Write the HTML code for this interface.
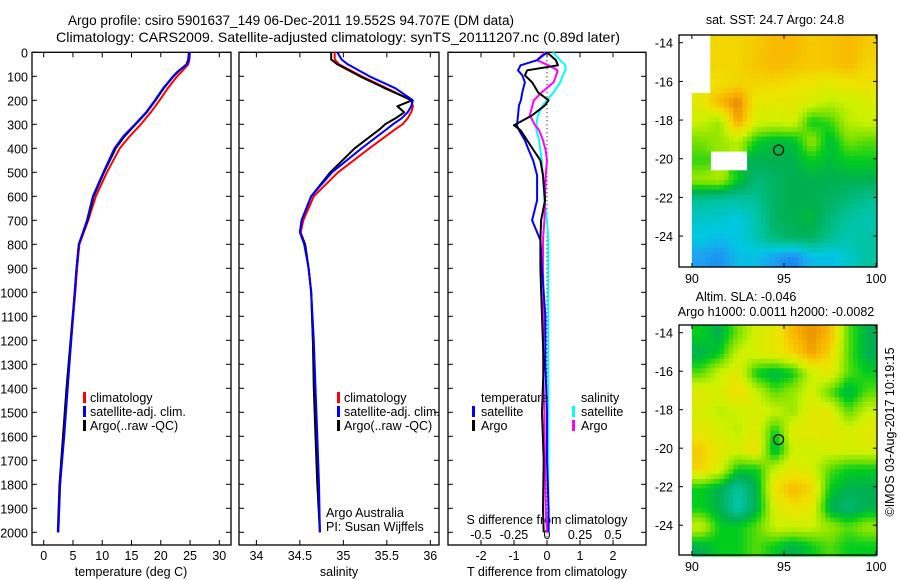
<!DOCTYPE html>
<html><head><meta charset="utf-8">
<style>
html,body{margin:0;padding:0;background:#fff;}
svg{display:block;font-family:"Liberation Sans",sans-serif;}
text{font-size:12.5px;fill:#000;}
</style></head>
<body>
<svg id="chart" width="900" height="580" viewBox="0 0 900 580" xmlns="http://www.w3.org/2000/svg">
<text x="68" y="25" textLength="446" lengthAdjust="spacingAndGlyphs" style="font-size:13.5px">Argo profile: csiro 5901637_149 06-Dec-2011 19.552S 94.707E (DM data)</text>
<text x="56" y="42" textLength="564" lengthAdjust="spacingAndGlyphs" style="font-size:13.8px">Climatology: CARS2009. Satellite-adjusted climatology: synTS_20111207.nc (0.89d later)</text>
<g id="layer"></g>
</svg>
<script>
// ---------- data ----------
const depthTicks = [0,100,200,300,400,500,600,700,800,900,1000,1100,1200,1300,1400,1500,1600,1700,1800,1900,2000];
const tempTicks = [0,5,10,15,20,25,30];
const salTicks = [34,34.5,35,35.5,36];
const tdiffTicks = [-2,-1,0,1,2];
const sdiffTicks = [-0.5,-0.25,0,0.25,0.5];
const sdiffTickLabels = ["-0.5","-0.25","0","0.25","0.5"];

const tDepths = [0,30,50,80,100,150,200,250,300,350,400,500,600,700,800,900,1000,1200,1400,1600,1800,2000];
const tempClim = [25,24.9,24.7,23.6,22.8,21.2,19.8,18.3,16.6,14.7,13.0,10.8,8.9,7.6,6.1,5.7,5.4,4.7,4.0,3.4,2.8,2.5];
const tempSat = [24.9,24.8,24.5,22.9,22.1,20.4,19.0,17.5,15.6,13.6,12.1,10.2,8.4,7.4,6.0,5.6,5.3,4.7,4.1,3.5,2.8,2.5];
const tempArgo = [24.8,24.7,24.4,23,22.2,20.5,19.1,17.6,15.7,13.8,12.3,10.3,8.5,7.5,6.0,5.6,5.3,4.6,3.9,3.3,2.7,2.4];

const sDepths = [0,30,50,100,150,200,225,250,275,300,320,400,500,600,700,750,800,900,1000,1200,1400,1600,1800,2000];
const salClim = [34.9,34.9,34.95,35.21,35.5,35.78,35.8,35.78,35.74,35.68,35.6,35.3,34.94,34.66,34.54,34.51,34.56,34.6,34.63,34.65,34.67,34.69,34.71,34.73];
const salSat = [34.93,34.98,35.05,35.3,35.6,35.8,35.78,35.74,35.67,35.57,35.5,35.21,34.87,34.63,34.52,34.5,34.55,34.6,34.63,34.66,34.68,34.7,34.72,34.73];
const salArgo = [34.86,34.86,34.93,35.19,35.48,35.79,35.62,35.7,35.6,35.48,35.42,35.13,34.85,34.63,34.52,34.5,34.56,34.6,34.63,34.65,34.66,34.68,34.7,34.73];

const dDepths = [0,33,54,75,96,125,167,200,221,263,304,325,367,409,450,513,617,700,783,900,1100,1300,1500,1700,1900,2000];
const tDiffSat = [0,-0.3,-0.8,-0.88,-0.75,-0.67,-0.75,-0.79,-0.85,-0.88,-0.91,-0.85,-0.67,-0.55,-0.42,-0.3,-0.3,-0.45,-0.2,-0.15,-0.05,-0.05,0,0,0.05,0.05];
const tDiffArgo = [0,0.27,0.33,-0.6,-0.67,-0.45,-0.27,0.05,-0.06,-0.45,-1.0,-0.8,-0.6,-0.4,-0.2,-0.12,-0.06,-0.18,-0.2,-0.2,-0.15,-0.1,-0.15,-0.1,-0.12,-0.1];
const sDiffArgo = [-0.015,-0.075,0.01,0.08,0.07,0.05,-0.04,-0.1,-0.11,-0.13,-0.09,-0.06,-0.03,-0.01,0,-0.01,-0.015,-0.02,-0.03,-0.03,-0.025,-0.03,-0.02,-0.015,-0.01,0];
const sDiffSat = [0.045,0.1,0.14,0.14,0.12,0.1,0.05,0,-0.03,-0.07,-0.08,-0.08,-0.06,-0.05,-0.04,-0.03,-0.02,0,0.01,0.01,0.01,0.01,0.01,0.01,0.01,0.01];

const lonTicks = [90,95,100];
const latTicks = [-14,-16,-18,-20,-22,-24];
const sstGrid = [
[null,0.8,0.8,0.82,0.85,0.85,0.82,0.83,0.85,0.82],
[null,0.8,0.8,0.83,0.85,0.84,0.82,0.83,0.85,0.8],
[null,0.78,0.8,0.8,0.8,0.78,0.77,0.75,0.77,0.78],
[0.75,0.85,0.92,0.75,0.75,0.75,0.72,0.68,0.7,0.72],
[0.7,0.65,0.88,0.72,0.7,0.72,0.55,0.58,0.68,0.7],
[0.62,0.65,0.68,0.55,0.52,0.52,0.65,0.52,0.62,0.6],
[0.58,null,null,0.5,0.5,0.5,0.55,0.52,0.55,0.55],
[0.65,0.67,0.55,0.45,0.48,0.5,0.5,0.5,0.5,0.5],
[0.42,0.4,0.4,0.42,0.48,0.5,0.5,0.48,0.45,0.42],
[0.35,0.35,0.32,0.38,0.48,0.5,0.52,0.45,0.4,0.38],
[0.32,0.3,0.32,0.38,0.45,0.48,0.48,0.42,0.38,0.4],
[0.25,0.22,0.3,0.3,0.25,0.2,0.3,0.3,0.35,0.4]];
const slaGrid = [
[0.55,0.5,0.62,0.72,0.75,0.85,0.9,0.85,0.6,0.5],
[0.5,0.55,0.7,0.72,0.75,0.8,0.88,0.8,0.6,0.5],
[0.6,0.7,0.75,0.55,0.5,0.55,0.7,0.75,0.6,0.55],
[0.75,0.72,0.8,0.7,0.6,0.65,0.72,0.6,0.5,0.6],
[0.72,0.68,0.7,0.72,0.7,0.65,0.75,0.75,0.6,0.7],
[0.75,0.72,0.68,0.75,0.55,0.75,0.75,0.75,0.72,0.75],
[0.82,0.75,0.72,0.78,0.5,0.7,0.7,0.72,0.72,0.72],
[0.8,0.72,0.55,0.55,0.7,0.75,0.72,0.6,0.55,0.55],
[0.55,0.5,0.4,0.5,0.78,0.85,0.8,0.55,0.5,0.5],
[0.55,0.5,0.38,0.5,0.72,0.78,0.75,0.5,0.45,0.5],
[0.7,0.55,0.55,0.6,0.7,0.7,0.7,0.65,0.6,0.65],
[0.5,0.55,0.55,0.6,0.55,0.5,0.55,0.6,0.55,0.55]];
const argoLon = 94.707, argoLat = -19.552;

// ---------- helpers ----------
const NS = "http://www.w3.org/2000/svg";
const layer = document.getElementById('layer');
function mk(tag, attrs, parent){const e=document.createElementNS(NS,tag);for(const k in attrs)e.setAttribute(k,attrs[k]);(parent||layer).appendChild(e);return e;}
const TOP=52.3, BOT=545;
const yD = d => TOP + d*0.24;
function lin(d0,d1,r0,r1){return v => r0 + (v-d0)/(d1-d0)*(r1-r0);}
const xT = lin(-2,32,32,231);
const xS = lin(33.8,36.1,239,439);
const xTd = lin(-3,3,448,646);
const xSd = lin(-0.75,0.75,448,646);

function frame(x0,x1,y0,y1,name){
  const r=mk('rect',{x:x0,y:y0,width:x1-x0,height:y1-y0,fill:'none',stroke:'#000','stroke-width':1.3});
  
  
}
function line(pts,color,name,w){
  const p=mk('polyline',{points:pts.map(q=>q[0].toFixed(1)+','+q[1].toFixed(1)).join(' '),fill:'none',stroke:color,'stroke-width':w||2,'stroke-linejoin':'round'});
  
  
}
function txt(x,y,s,anchor,name){
  const t=mk('text',{x:x,y:y,'text-anchor':anchor||'start'});t.textContent=s;
  
  
  return t;
}
function legendBar(x,y,color,name){
  const r=mk('rect',{x:x,y:y-10,width:3,height:11,fill:color});
  
  
}

// ---------- panels ----------
const panels=[[32,231],[239,439],[448,646]];
panels.forEach((p,i)=>{
  frame(p[0],p[1],TOP,BOT,'profile-panel-'+(i+1)+'-frame');
});
depthTicks.forEach(d=>{
  const y=yD(d);
  panels.forEach(p=>{
    mk('line',{x1:p[0],x2:p[0]+5,y1:y,y2:y,stroke:'#000'});
    mk('line',{x1:p[1]-5,x2:p[1],y1:y,y2:y,stroke:'#000'});
  });
  txt(28,y+5,String(d),'end','depth-tick-label');
});
tempTicks.forEach(v=>{
  const x=xT(v);
  mk('line',{x1:x,x2:x,y1:BOT-5,y2:BOT,stroke:'#000'});
  mk('line',{x1:x,x2:x,y1:TOP,y2:TOP+5,stroke:'#000'});
  txt(x,560,String(v),'middle','temperature-tick-label');
});
txt(131,576,'temperature (deg C)','middle','temperature-axis-title');
salTicks.forEach(v=>{
  const x=xS(v);
  mk('line',{x1:x,x2:x,y1:BOT-5,y2:BOT,stroke:'#000'});
  mk('line',{x1:x,x2:x,y1:TOP,y2:TOP+5,stroke:'#000'});
  txt(x,560,String(v),'middle','salinity-tick-label');
});
txt(339,576,'salinity','middle','salinity-axis-title');
tdiffTicks.forEach(v=>{
  const x=xTd(v);
  mk('line',{x1:x,x2:x,y1:BOT-5,y2:BOT,stroke:'#000'});
  mk('line',{x1:x,x2:x,y1:TOP,y2:TOP+5,stroke:'#000'});
  txt(x,560,String(v),'middle','t-difference-tick-label');
});
sdiffTicks.forEach((v,i)=>{
  txt(xSd(v),539,sdiffTickLabels[i],'middle','s-difference-tick-label');
});
txt(547,524,'S difference from climatology','middle','s-difference-axis-title');
txt(547,576,'T difference from climatology','middle','t-difference-axis-title');

const zl=mk('line',{x1:xTd(0),x2:xTd(0),y1:TOP,y2:BOT,stroke:'#000','stroke-dasharray':'1,3'});



line(tDepths.map((d,i)=>[xT(tempClim[i]),yD(d)]),'#ff0000','temperature-climatology-line');
line(tDepths.map((d,i)=>[xT(tempArgo[i]),yD(d)]),'#000000','temperature-argo-line');
line(tDepths.map((d,i)=>[xT(tempSat[i]),yD(d)]),'#0000ff','temperature-satellite-line');
line(sDepths.map((d,i)=>[xS(salClim[i]),yD(d)]),'#ff0000','salinity-climatology-line');
line(sDepths.map((d,i)=>[xS(salArgo[i]),yD(d)]),'#000000','salinity-argo-line');
line(sDepths.map((d,i)=>[xS(salSat[i]),yD(d)]),'#0000ff','salinity-satellite-line');
line(dDepths.map((d,i)=>[xSd(sDiffSat[i]),yD(d)]),'#00ffff','s-diff-satellite-line');
line(dDepths.map((d,i)=>[xSd(sDiffArgo[i]),yD(d)]),'#ff00ff','s-diff-argo-line');
line(dDepths.map((d,i)=>[xTd(tDiffSat[i]),yD(d)]),'#0000ff','t-diff-satellite-line');
line(dDepths.map((d,i)=>[xTd(tDiffArgo[i]),yD(d)]),'#000000','t-diff-argo-line');

[['climatology','#ff0000'],['satellite-adj. clim.','#0000ff'],['Argo(..raw -QC)','#000000']].forEach((l,i)=>{
  legendBar(83,402+i*14,l[1],'temperature-legend-swatch');
  txt(90,402+i*14,l[0],'start','temperature-legend-entry');
});
[['climatology','#ff0000'],['satellite-adj. clim.','#0000ff'],['Argo(..raw -QC)','#000000']].forEach((l,i)=>{
  legendBar(337,402+i*14,l[1],'salinity-legend-swatch');
  txt(344,402+i*14,l[0],'start','salinity-legend-entry');
});
txt(326,517,'Argo Australia','start','argo-australia-label');
txt(326,531,'PI: Susan Wijffels','start','pi-label');
txt(481,402,'temperature','start','diff-legend-temperature-header');
legendBar(472,416,'#0000ff','diff-legend-t-satellite-swatch');
txt(481,416,'satellite','start','diff-legend-t-satellite');
legendBar(472,430,'#000000','diff-legend-t-argo-swatch');
txt(481,430,'Argo','start','diff-legend-t-argo');
txt(581,402,'salinity','start','diff-legend-salinity-header');
legendBar(572,416,'#00ffff','diff-legend-s-satellite-swatch');
txt(581,416,'satellite','start','diff-legend-s-satellite');
legendBar(572,430,'#ff00ff','diff-legend-s-argo-swatch');
txt(581,430,'Argo','start','diff-legend-s-argo');

// ---------- maps ----------
const cstops=[[0.1,[10,90,230]],[0.25,[30,160,240]],[0.32,[0,200,225]],[0.4,[0,195,160]],[0.5,[0,176,80]],[0.55,[0,205,30]],[0.62,[120,225,0]],[0.7,[205,242,0]],[0.78,[240,225,0]],[0.85,[248,185,0]],[0.92,[232,130,0]]];
function cmap(v){
  if(v<=cstops[0][0])return 'rgb('+cstops[0][1]+')';
  for(let i=1;i<cstops.length;i++){
    if(v<=cstops[i][0]){const a=cstops[i-1],b=cstops[i];const t=(v-a[0])/(b[0]-a[0]);
      return 'rgb('+a[1].map((c,k)=>Math.round(c+(b[1][k]-c)*t)).join(',')+')';}
  }
  return 'rgb('+cstops[cstops.length-1][1]+')';
}
function sample(grid,u,v){
  const R=grid.length,C=grid[0].length;
  const nr=Math.min(R-1,Math.max(0,Math.round(v))), nc=Math.min(C-1,Math.max(0,Math.round(u)));
  const near=grid[nr][nc];
  if(near===null)return null;
  const uu=Math.min(C-1,Math.max(0,u)), vv=Math.min(R-1,Math.max(0,v));
  const c0=Math.floor(uu), r0=Math.floor(vv), c1=Math.min(C-1,c0+1), r1=Math.min(R-1,r0+1);
  const fu=uu-c0, fv=vv-r0;
  const g=(r,c)=>grid[r][c]===null?near:grid[r][c];
  return g(r0,c0)*(1-fu)*(1-fv)+g(r0,c1)*fu*(1-fv)+g(r1,c0)*(1-fu)*fv+g(r1,c1)*fu*fv;
}
function drawMap(grid,fx0,fx1,fy0,fy1,lat0,lat1,name){
  const xL=lin(89.3,100.05,fx0,fx1);
  const yL=lin(lat0,lat1,fy0,fy1);
  const rows=grid.length, cols=grid[0].length;
  const dlat=(lat0-(-25.6))/rows;
  const SUB=4;
  for(let r=0;r<rows*SUB;r++){
    for(let c=0;c<cols*SUB;c++){
      const u=(c+0.5)/SUB-0.5, v=(r+0.5)/SUB-0.5;
      const val=sample(grid,u,v);
      if(val===null)continue;
      const x0=xL(90+c/SUB),x1=xL(90+(c+1)/SUB);
      const y0=yL(lat0-r/SUB*dlat),y1=yL(lat0-(r+1)/SUB*dlat);
      const cell=mk('rect',{x:x0.toFixed(1),y:y0.toFixed(1),width:(x1-x0+0.6).toFixed(1),height:(y1-y0+0.6).toFixed(1),fill:cmap(val)});
      
      
    }
  }
  frame(fx0,fx1,fy0,fy1,name+'-frame');
  lonTicks.forEach(v=>{
    const x=xL(v);
    mk('line',{x1:x,x2:x,y1:fy1-4,y2:fy1,stroke:'#000'});
    mk('line',{x1:x,x2:x,y1:fy0,y2:fy0+4,stroke:'#000'});
    txt(x,fy1+16,String(v),'middle',name+'-lon-tick-label');
  });
  latTicks.forEach(v=>{
    const y=yL(v);
    mk('line',{x1:fx0,x2:fx0+4,y1:y,y2:y,stroke:'#000'});
    mk('line',{x1:fx1-4,x2:fx1,y1:y,y2:y,stroke:'#000'});
    txt(fx0-6,y+5,String(v),'end',name+'-lat-tick-label');
  });
  const c=mk('circle',{cx:xL(argoLon),cy:yL(argoLat),r:5,fill:'none',stroke:'#000','stroke-width':1.2});
  
  
}
drawMap(sstGrid,679,877,35,267,-13.6,-25.6,'sst-map');
drawMap(slaGrid,679,877,325,555,-13.6,-25.55,'sla-map');
txt(775,24,'sat. SST: 24.7 Argo: 24.8','middle','sst-map-title');
txt(746,301,'Altim. SLA: -0.046','middle','sla-map-title');
txt(776,316,'Argo h1000: 0.0011 h2000: -0.0082','middle','sla-map-subtitle');
const cp=txt(0,0,'\u00A9IMOS 03-Aug-2017 10:19:15','middle','copyright-timestamp');
cp.setAttribute('transform','translate(894,432) rotate(-90)');
</script>
</body></html>
